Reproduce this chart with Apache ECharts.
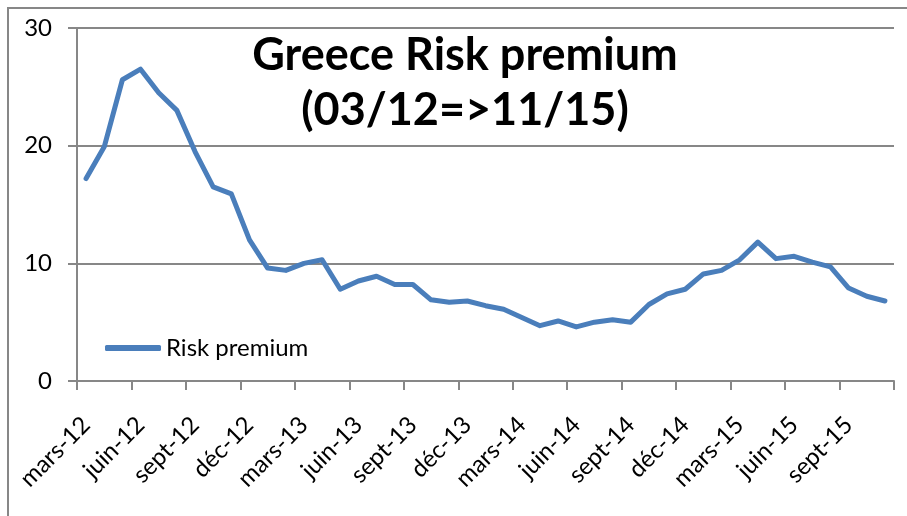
<!DOCTYPE html>
<html>
<head>
<meta charset="utf-8">
<title>Greece Risk premium</title>
<script src="https://cdn.jsdelivr.net/npm/echarts@6/dist/echarts.min.js"></script>
<style>
  html, body { margin: 0; padding: 0; background: #ffffff; }
  #chart { width: 907px; height: 516px; }
</style>
</head>
<body>
<div id="chart"></div>
<script>
// Monthly categories, March 2012 to November 2015
const months = ['mars-12','avr-12','mai-12','juin-12','juil-12','août-12','sept-12','oct-12','nov-12','déc-12',
  'janv-13','févr-13','mars-13','avr-13','mai-13','juin-13','juil-13','août-13','sept-13','oct-13','nov-13','déc-13',
  'janv-14','févr-14','mars-14','avr-14','mai-14','juin-14','juil-14','août-14','sept-14','oct-14','nov-14','déc-14',
  'janv-15','févr-15','mars-15','avr-15','mai-15','juin-15','juil-15','août-15','sept-15','oct-15','nov-15'];

// Greek risk premium (percentage points)
const riskPremium = [17.2, 19.9, 25.6, 26.5, 24.5, 23.0, 19.5, 16.5, 15.9, 12.0,
  9.6, 9.4, 10.0, 10.3, 7.8, 8.5, 8.9, 8.2, 8.2, 6.9, 6.7, 6.8,
  6.4, 6.1, 5.4, 4.7, 5.1, 4.6, 5.0, 5.2, 5.0, 6.5, 7.4, 7.8,
  9.1, 9.4, 10.3, 11.8, 10.4, 10.6, 10.1, 9.7, 7.9, 7.2, 6.8];

const seriesName = 'Risk premium';
const titleLines = ['Greece Risk premium', '(03/12=>11/15)'];

const FONT = 'Lato, "Open Sans", sans-serif';
const GRAY = '#878787';
const BLUE = '#4a7ebb';

const chart = echarts.init(document.getElementById('chart'), null, { renderer: 'canvas' });

chart.setOption({
  backgroundColor: '#ffffff',
  animation: false,
  graphic: [{
    type: 'rect',
    silent: true,
    z: -1,
    shape: { x: 8, y: 8, width: 1000, height: 600 },
    style: { fill: 'none', stroke: GRAY, lineWidth: 2 }
  }],
  title: {
    text: titleLines.join('\n'),
    left: 465,
    top: 28,
    textAlign: 'center',
    padding: 0,
    textStyle: {
      fontFamily: FONT,
      fontWeight: 'bold',
      fontSize: 45,
      lineHeight: 55,
      color: '#000000'
    }
  },
  legend: {
    left: 105,
    top: 336,
    padding: 0,
    icon: 'roundRect',
    itemWidth: 56,
    itemHeight: 6,
    data: [seriesName],
    textStyle: { fontFamily: FONT, fontSize: 24, lineHeight: 24, color: '#000000' }
  },
  grid: { left: 77, right: 13, top: 28, bottom: 135, containLabel: false },
  xAxis: {
    type: 'category',
    data: months,
    boundaryGap: true,
    axisLine: { lineStyle: { color: GRAY, width: 2 } },
    axisTick: { show: true, interval: 2, length: 9, lineStyle: { color: GRAY, width: 2 } },
    axisLabel: {
      interval: 2,
      rotate: 45,
      margin: 40,
      fontFamily: FONT,
      fontSize: 24,
      color: '#000000'
    },
    splitLine: { show: false }
  },
  yAxis: {
    type: 'value',
    min: 0,
    max: 30,
    interval: 10,
    axisLine: { show: true, lineStyle: { color: GRAY, width: 2 } },
    axisTick: { show: true, length: 9, lineStyle: { color: GRAY, width: 2 } },
    axisLabel: { margin: 25, fontFamily: FONT, fontSize: 24, color: '#000000' },
    splitLine: { show: true, lineStyle: { color: GRAY, width: 2 } }
  },
  series: [{
    name: seriesName,
    type: 'line',
    data: riskPremium,
    symbol: 'none',
    itemStyle: { color: BLUE },
    lineStyle: { color: BLUE, width: 5, cap: 'round', join: 'round' }
  }]
});
</script>
</body>
</html>
